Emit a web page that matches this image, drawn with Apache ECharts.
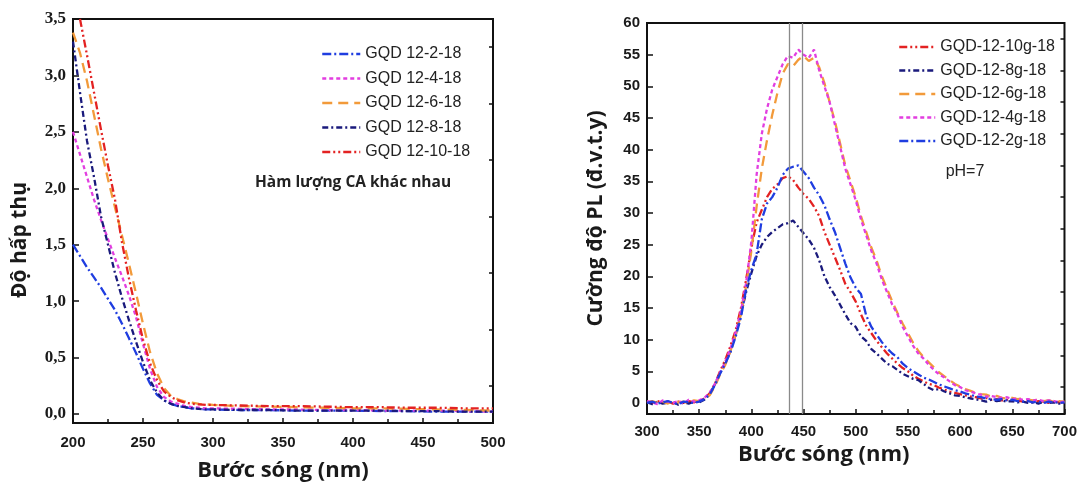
<!DOCTYPE html>
<html>
<head>
<meta charset="utf-8">
<script src="https://cdn.jsdelivr.net/npm/echarts@6/dist/echarts.min.js"></script>
<style>html,body{margin:0;padding:0;background:#fff}#c{width:1080px;height:488px}</style>
</head>
<body>
<div id="c"></div>
<script>
// ---------- Left chart: absorption ----------
const absWl = [200,205,210,215,220,225,230,235,240,245,250,255,260,265,270,275,280,285,290,295,300,320,340,360,380,400,420,440,460,480,500];
const abs2  = [1.50,1.40,1.30,1.21,1.12,1.02,0.92,0.80,0.67,0.54,0.40,0.27,0.17,0.12,0.09,0.07,0.06,0.05,0.045,0.04,0.04,0.035,0.035,0.03,0.03,0.03,0.025,0.025,0.02,0.02,0.02];
const abs4  = [2.50,2.30,2.10,1.90,1.72,1.55,1.38,1.22,1.05,0.86,0.62,0.40,0.24,0.15,0.11,0.09,0.07,0.06,0.055,0.05,0.05,0.045,0.04,0.04,0.035,0.035,0.03,0.03,0.03,0.025,0.02];
const abs6  = [3.38,3.20,2.95,2.65,2.35,2.08,1.83,1.58,1.33,1.07,0.80,0.55,0.36,0.23,0.16,0.13,0.11,0.10,0.09,0.085,0.08,0.07,0.065,0.06,0.055,0.05,0.05,0.045,0.04,0.035,0.03];
const abs8  = [3.30,2.85,2.42,2.10,1.75,1.50,1.25,1.03,0.83,0.64,0.46,0.30,0.19,0.12,0.09,0.07,0.06,0.05,0.045,0.04,0.04,0.035,0.035,0.03,0.03,0.03,0.03,0.025,0.025,0.02,0.02];
const abs10 = [null,3.50,3.18,2.85,2.52,2.20,1.90,1.52,1.20,0.92,0.66,0.45,0.30,0.20,0.15,0.12,0.10,0.09,0.085,0.08,0.08,0.075,0.07,0.07,0.065,0.06,0.06,0.055,0.055,0.05,0.05];
const absNames = ['GQD 12-2-18','GQD 12-4-18','GQD 12-6-18','GQD 12-8-18','GQD 12-10-18'];
const absTicks = [0,0.5,1,1.5,2,2.5,3,3.5];
const absMinorTicks = [0.25,0.75,1.25,1.75,2.25,2.75,3.25];

// ---------- Right chart: PL ----------
const plWl = [300,305,310,315,320,325,330,335,340,345,350,355,360,365,370,375,380,385,390,395,400,405,410,415,420,425,430,435,440,445,450,455,460,465,470,475,480,485,490,495,500,505,510,515,520,525,530,535,540,545,550,555,560,565,570,575,580,585,590,595,600,605,610,615,620,625,630,635,640,645,650,655,660,665,670,675,680,685,690,695,700];
const pl10 = [0.2,0.0,0.3,0.1,0.2,-0.1,0.2,0.0,0.3,0.1,0.3,0.7,1.5,3.0,5.0,6.8,9.0,11.5,15.0,19.5,24.5,28.5,30.5,32.5,33.8,34.5,35.5,35.8,35.2,34.0,33.0,32.2,31.0,29.5,27.0,25.0,23.0,21.0,18.8,17.5,16.0,14.0,12.2,11.0,9.8,8.8,7.8,7.0,6.2,5.5,5.0,4.3,3.8,3.4,3.0,2.8,2.4,2.1,1.8,1.6,1.4,1.2,1.0,0.9,0.7,0.8,0.5,0.6,0.4,0.5,0.3,0.4,0.2,0.3,0.1,0.3,0.2,0.0,0.2,0.1,0.1];
const pl8  = [0.1,-0.2,0.2,-0.1,0.0,0.2,-0.3,0.1,-0.1,0.2,0.1,0.5,1.4,2.9,4.7,6.3,8.2,10.8,14.0,17.5,20.5,23.2,25.0,26.2,27.0,27.6,28.2,28.4,28.8,27.8,26.8,25.8,24.5,22.5,20.0,18.3,17.0,15.5,14.0,12.6,12.0,10.5,9.8,8.5,7.8,7.0,6.2,5.8,5.2,4.6,4.2,3.8,3.6,3.0,2.4,2.0,2.2,1.8,1.5,1.2,1.1,0.9,0.7,0.6,0.4,0.2,0.5,0.3,0.4,0.2,0.3,0.1,0.2,0.0,0.1,-0.1,0.2,0.0,0.1,-0.1,0.1];
const pl6  = [0.1,0.3,0.0,0.2,-0.1,0.3,0.1,0.2,0.0,0.4,0.3,0.6,1.2,2.6,4.5,6.0,8.2,10.8,14.0,18.5,24.0,31.0,37.0,41.5,45.5,49.0,52.0,53.5,53.2,54.2,54.8,54.0,54.5,53.0,50.5,47.5,44.5,41.0,37.5,35.0,32.5,29.5,27.0,24.5,22.5,20.0,18.0,16.0,14.2,12.5,11.0,9.5,8.2,7.2,6.4,5.6,4.8,4.2,3.6,3.0,2.6,2.2,1.9,1.6,1.4,1.3,1.0,1.1,0.8,0.7,0.8,0.6,0.7,0.5,0.4,0.5,0.3,0.4,0.2,0.3,0.2];
const pl4  = [0.3,0.1,-0.2,0.4,0.2,0.0,0.3,-0.1,0.5,0.2,0.4,0.8,1.6,3.0,4.8,6.5,8.6,11.2,14.5,19.0,25.5,36.0,42.5,46.5,49.5,51.5,53.5,54.8,54.5,55.8,55.0,54.5,55.8,52.5,50.0,47.5,44.0,40.5,37.0,34.5,32.0,29.0,26.5,24.0,22.0,19.5,17.5,15.5,14.0,12.0,10.5,9.0,7.8,7.0,6.0,5.2,4.5,4.0,3.4,2.8,2.5,2.0,1.8,1.5,1.3,1.0,1.1,0.9,0.8,0.9,0.6,0.7,0.5,0.6,0.4,0.5,0.3,0.4,0.3,0.1,0.2];
const pl2  = [0.0,0.2,-0.1,0.1,0.3,0.0,-0.2,0.2,0.1,0.0,0.2,0.6,1.3,2.8,4.6,6.2,8.0,10.5,13.5,18.0,21.0,23.5,29.0,31.5,32.5,34.0,36.0,37.0,37.3,37.5,36.5,35.5,34.0,32.8,31.2,29.0,27.0,24.5,22.0,19.8,18.2,17.2,13.8,12.0,10.8,9.6,8.6,7.8,7.2,6.2,5.5,5.0,4.5,4.0,3.7,3.3,2.9,2.6,2.3,2.0,1.8,1.5,1.3,1.0,0.9,0.7,0.6,0.5,0.6,0.4,0.5,0.3,0.2,0.3,0.1,0.2,0.0,0.2,0.1,0.0,0.1];
const plNames = ['GQD-12-10g-18','GQD-12-8g-18','GQD-12-6g-18','GQD-12-4g-18','GQD-12-2g-18'];
const plTicks = [0,5,10,15,20,25,30,35,40,45,50,55,60];
const plMinorTicks = [2.5,7.5,12.5,17.5,22.5,27.5,32.5,37.5,42.5,47.5,52.5,57.5];
const peakLines = [436, 449];

const C = {blue:'#1f3de0', magenta:'#e23ee0', orange:'#f29a3a', navy:'#1a1a7c', red:'#e32222'};
const ST = {
  dashdot:[9,3,2,3],
  dot:[4,3],
  dash:[10,6],
  navy:[6,3,2,3],
  dashdotdot:[8,3,2,3,2,3]
};

function pairs(xs, ys){ return xs.map((x,i)=> [x, ys[i]]); }
function mk(name, xs, ys, color, dash, xi, yi){
  return {name, type:'line', xAxisIndex:xi, yAxisIndex:yi, data:pairs(xs,ys), symbol:'none', showSymbol:false,
    legendIcon:'none',
    lineStyle:{color, width:2.3, type:dash}, itemStyle:{color}, z:3};
}

const chart = echarts.init(document.getElementById('c'), null, {renderer:'canvas'});
const axisCol = '#111';
const sansBold = {fontFamily:'"Liberation Sans", Arial, sans-serif', fontWeight:'bold', fontSize:15, color:'#1a1a1a'};
const legendText = {fontFamily:'"Liberation Sans", Arial, sans-serif', fontSize:16, color:'#222', lineHeight:16};

const series = [
  mk(absNames[0], absWl, abs2, C.blue, ST.dashdot, 0, 0),
  mk(absNames[1], absWl, abs4, C.magenta, ST.dot, 0, 0),
  mk(absNames[2], absWl, abs6, C.orange, ST.dash, 0, 0),
  mk(absNames[3], absWl, abs8, C.navy, ST.navy, 0, 0),
  mk(absNames[4], absWl, abs10, C.red, ST.dashdotdot, 0, 0),
  mk(plNames[0], plWl, pl10, C.red, ST.dashdotdot, 1, 2),
  mk(plNames[1], plWl, pl8, C.navy, ST.navy, 1, 2),
  mk(plNames[2], plWl, pl6, C.orange, ST.dash, 1, 2),
  mk(plNames[3], plWl, pl4, C.magenta, ST.dot, 1, 2),
  mk(plNames[4], plWl, pl2, C.blue, ST.dashdot, 1, 2)
];
series[5].markLine = {silent:true, symbol:'none', label:{show:false}, animation:false,
  lineStyle:{color:'#8a8a8a', type:'solid', width:1.3}, data: peakLines.map(v=>({xAxis:v}))};

chart.setOption({
  animation:false,
  backgroundColor:'#ffffff',
  grid:[
    {left:73, top:19, width:420, height:404, show:true, borderColor:axisCol, borderWidth:2, backgroundColor:'transparent'},
    {left:647, top:23, width:418, height:391, show:true, borderColor:axisCol, borderWidth:2, backgroundColor:'transparent'}
  ],
  xAxis:[
    {type:'value', gridIndex:0, min:200, max:500, interval:50,
     axisLine:{onZero:false, lineStyle:{color:axisCol, width:2}},
     axisTick:{inside:true, length:5, lineStyle:{color:axisCol, width:1.5}},
     minorTick:{show:true, splitNumber:2, length:4, lineStyle:{color:axisCol, width:1.5}},
     splitLine:{show:false},
     axisLabel:Object.assign({margin:12}, sansBold),
     name:'Bước sóng (nm)', nameLocation:'middle', nameGap:37,
     nameTextStyle:{fontFamily:'"Open Sans", sans-serif', fontWeight:'bold', fontSize:22, color:'#1a1a1a'}},
    {type:'value', gridIndex:1, min:300, max:700, interval:50,
     axisLine:{onZero:false, lineStyle:{color:axisCol, width:2}},
     axisTick:{inside:true, length:5, lineStyle:{color:axisCol, width:1.5}},
     minorTick:{show:true, splitNumber:2, length:4, lineStyle:{color:axisCol, width:1.5}},
     splitLine:{show:false},
     axisLabel:Object.assign({margin:10}, sansBold),
     name:'Bước sóng (nm)', nameLocation:'middle', nameGap:28,
     nameTextStyle:{fontFamily:'"Open Sans", sans-serif', fontWeight:'bold', fontSize:22, color:'#1a1a1a', padding:[0,64,0,0]}}
  ],
  yAxis:[
    {type:'value', gridIndex:0, min:-0.08, max:3.5,
     axisLine:{onZero:false, lineStyle:{color:axisCol, width:2}},
     axisTick:{inside:true, length:6, customValues:absTicks, lineStyle:{color:axisCol, width:1.5}},
     splitLine:{show:false},
     axisLabel:{customValues:absTicks, margin:7, fontFamily:'"Liberation Serif", "Times New Roman", serif', fontWeight:'bold', fontSize:17, color:'#1a1a1a',
       formatter:v=>v.toFixed(1).replace('.', ',')},
     name:'Độ hấp thụ', nameLocation:'middle', nameGap:42,
     nameTextStyle:{fontFamily:'"Open Sans", sans-serif', fontWeight:'bold', fontSize:21, color:'#1a1a1a', padding:[0,38,0,0]}},
    {type:'value', gridIndex:0, min:-0.08, max:3.5,
     axisLine:{show:false}, axisLabel:{show:false}, splitLine:{show:false},
     axisTick:{inside:true, length:4, customValues:absMinorTicks, lineStyle:{color:axisCol, width:1.5}}},
    {type:'value', gridIndex:1, min:-1.75, max:60,
     axisLine:{onZero:false, lineStyle:{color:axisCol, width:2}},
     axisTick:{inside:true, length:6, customValues:plTicks, lineStyle:{color:axisCol, width:1.5}},
     splitLine:{show:false},
     axisLabel:Object.assign({customValues:plTicks, margin:7}, sansBold),
     name:'Cường độ PL (đ.v.t.y)', nameLocation:'middle', nameGap:40,
     nameTextStyle:{fontFamily:'"Open Sans", sans-serif', fontWeight:'bold', fontSize:21, color:'#1a1a1a'}},
    {type:'value', gridIndex:1, min:-1.75, max:60,
     axisLine:{show:false}, axisLabel:{show:false}, splitLine:{show:false},
     axisTick:{inside:true, length:4, customValues:plMinorTicks, lineStyle:{color:axisCol, width:1.5}}}
  ],
  legend:[
    {data:absNames, left:321, top:46, padding:0, orient:'vertical', itemWidth:38, itemHeight:14, itemGap:8.5,
     itemStyle:{opacity:0}, lineStyle:{opacity:1, width:2.5}, textStyle:legendText},
    {data:plNames, left:898, top:39, padding:0, orient:'vertical', itemWidth:36, itemHeight:14, itemGap:7.5,
     itemStyle:{opacity:0}, lineStyle:{opacity:1, width:2.5}, textStyle:legendText}
  ],
  graphic:[
    {type:'text', x:353, y:183, z:10,
     style:{text:'Hàm lượng CA khác nhau', font:'bold 15.5px "Open Sans", sans-serif', fill:'#222', align:'center', verticalAlign:'middle', textAlign:'center', textVerticalAlign:'middle'}},
    {type:'text', x:965, y:172, z:10,
     style:{text:'pH=7', font:'16px "Liberation Sans", Arial, sans-serif', fill:'#222', align:'center', verticalAlign:'middle', textAlign:'center', textVerticalAlign:'middle'}}
  ],
  series
});
</script>
</body>
</html>
